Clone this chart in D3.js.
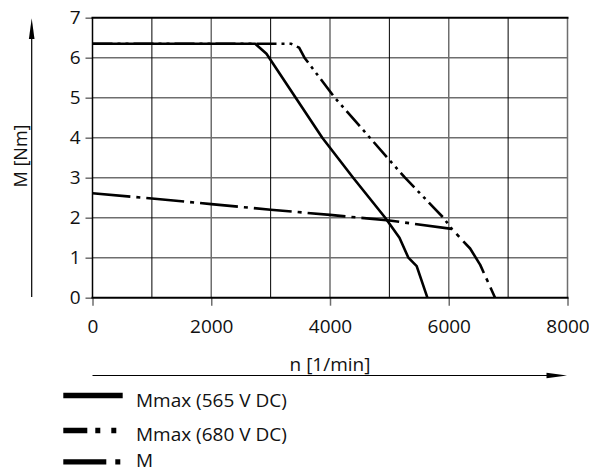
<!doctype html>
<html>
<head>
    <style>
        body { margin: 0; background: #fff; }
        text { font-family: "Open Sans", sans-serif; fill: #111; }
        .domain { display: none; }
    </style>
    <script src="https://d3js.org/d3.v7.min.js"></script>
</head>
<body>
<svg width="589" height="473"></svg>
<script>
// speed n [1/min], torque M [Nm]
var mmax565 = [[0, 6.35], [2740, 6.35], [2930, 6.1], [3870, 4.0], [4390, 3.0], [4930, 2.0],
               [5170, 1.5], [5320, 1.0], [5460, 0.79], [5640, 0]];
var mmax680 = [[0, 6.35], [3340, 6.35], [3480, 6.25], [3570, 6.0], [4080, 5.0], [5263, 3.0],
               [5910, 2.0], [6050, 1.72]];
var mCont = [[0, 2.61], [1000, 2.48], [2000, 2.34], [3000, 2.2], [4000, 2.07], [5000, 1.93],
             [6050, 1.72], [6360, 1.23], [6530, 0.82], [6780, 0]];

var xTicks = [0, 2000, 4000, 6000, 8000];
var xGrid = [1000, 2000, 3000, 4000, 5000, 6000, 7000];
var yTicks = [0, 1, 2, 3, 4, 5, 6, 7];
var legendNames = ["Mmax (565 V DC)", "Mmax (680 V DC)", "M"];

var svg = d3.select("svg");
var pLeft = 92.5, pRight = 567.5, pTop = 17.7, pBottom = 297.7;

var x = d3.scaleLinear().domain([0, 8000]).range([pLeft, pRight]);
var y = d3.scaleLinear().domain([0, 7]).range([pBottom, pTop]);

// grid
svg.selectAll(".hgrid")
    .data(yTicks.slice(1, 7))
    .enter().append("line")
    .attr("x1", pLeft).attr("x2", pRight)
    .attr("y1", function(d) { return y(d); })
    .attr("y2", function(d) { return y(d); })
    .attr("stroke", "#6e6e6e").attr("stroke-width", 1.5);

svg.selectAll(".vgrid")
    .data(xGrid)
    .enter().append("line")
    .attr("x1", function(d) { return x(d); })
    .attr("x2", function(d) { return x(d); })
    .attr("y1", pTop).attr("y2", pBottom)
    .attr("stroke", function(d) { return d % 2000 ? "#000" : "#6e6e6e"; })
    .attr("stroke-width", function(d) { return d % 2000 ? 1 : 1.5; });

// axes (ticks + labels)
var yAxis = svg.append("g")
    .attr("transform", "translate(" + pLeft + ",0)")
    .call(d3.axisLeft(y).tickValues(yTicks).tickFormat(d3.format("d")).tickSize(7).tickPadding(5));
yAxis.selectAll("line").attr("stroke", "#6e6e6e").attr("stroke-width", 1.5);
yAxis.selectAll("text").style("font-size", "19px").attr("fill", "#111");

var xAxis = svg.append("g")
    .attr("transform", "translate(0," + pBottom + ")")
    .call(d3.axisBottom(x).tickValues(xTicks).tickFormat(d3.format("d")).tickSize(8).tickPadding(14));
xAxis.selectAll("line").attr("stroke", "#6e6e6e").attr("stroke-width", 1.5);
xAxis.selectAll("text").style("font-size", "19px").attr("fill", "#111");

// frame
svg.append("line").attr("x1", pRight).attr("x2", pRight).attr("y1", pTop).attr("y2", pBottom)
    .attr("stroke", "#6e6e6e").attr("stroke-width", 1.5);
svg.append("line").attr("x1", pLeft).attr("x2", pLeft).attr("y1", pTop).attr("y2", pBottom)
    .attr("stroke", "#000").attr("stroke-width", 1.5);
svg.append("line").attr("x1", pLeft - 1).attr("x2", pRight + 1).attr("y1", pTop).attr("y2", pTop)
    .attr("stroke", "#000").attr("stroke-width", 2);
svg.append("line").attr("x1", pLeft - 1).attr("x2", pRight + 1).attr("y1", pBottom).attr("y2", pBottom)
    .attr("stroke", "#000").attr("stroke-width", 2);

// curves
var line = d3.line()
    .x(function(d) { return x(d[0]); })
    .y(function(d) { return y(d[1]); });

var series = [
    { data: mmax565, dash: null },
    { data: mmax680, dash: "20,5,3,5,3,5" },
    { data: mCont, dash: "38,6,4,6" }
];

series.forEach(function(s) {
    svg.append("path")
        .attr("d", line(s.data))
        .attr("fill", "none")
        .attr("stroke", "#000")
        .attr("stroke-width", 2.6)
        .attr("stroke-linejoin", "round")
        .attr("stroke-dasharray", s.dash);
});

// axis arrows
svg.append("line").attr("x1", 31.7).attr("x2", 31.7).attr("y1", 297).attr("y2", 34)
    .attr("stroke", "#000").attr("stroke-width", 1.2);
svg.append("path").attr("d", "M31.7,18.3 L34.5,39 L28.9,39 Z").attr("fill", "#000");

svg.append("line").attr("x1", pLeft).attr("x2", 550).attr("y1", 375.5).attr("y2", 375.5)
    .attr("stroke", "#000").attr("stroke-width", 1.2);
svg.append("path").attr("d", "M567,375.5 L546.5,372.8 L546.5,378.2 Z").attr("fill", "#000");

// axis titles
svg.append("text")
    .attr("transform", "translate(27,156) rotate(-90)")
    .attr("text-anchor", "middle")
    .style("font-size", "18px")
    .text("M [Nm]");

svg.append("text")
    .attr("x", 330).attr("y", 371)
    .attr("text-anchor", "middle")
    .style("font-size", "19px")
    .text("n [1/min]");

// legend
var legendY = [395.5, 430.5, 461.8];
var legendText = [406.5, 441, 467];
var legendDash = [null, "24,8,5,11,5", "43,9,5"];
var legendEnd = [122.7, 116.7, 121.7];

legendNames.forEach(function(name, i) {
    svg.append("line")
        .attr("x1", 63.3).attr("x2", legendEnd[i])
        .attr("y1", legendY[i]).attr("y2", legendY[i])
        .attr("stroke", "#000").attr("stroke-width", 5.3)
        .attr("stroke-dasharray", legendDash[i]);
    svg.append("text")
        .attr("x", 136).attr("y", legendText[i])
        .style("font-size", "19px")
        .text(name);
});
</script>
</body>
</html>
